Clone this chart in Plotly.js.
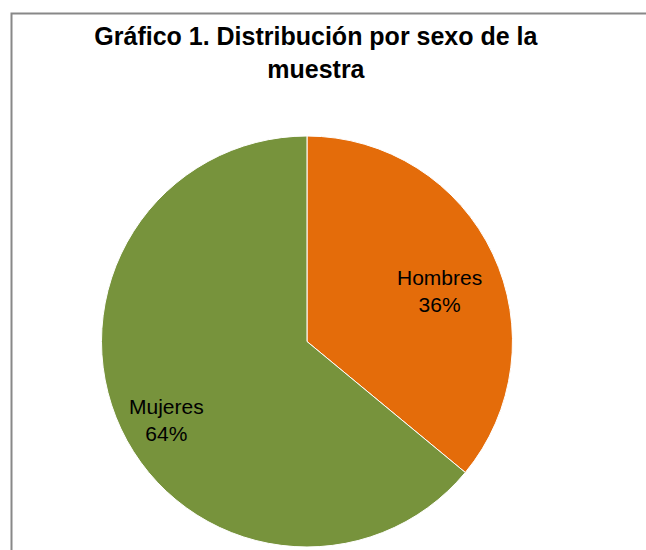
<!DOCTYPE html>
<html>
<head>
<meta charset="utf-8">
<script src="https://cdn.plot.ly/plotly-3.0.1.min.js"></script>
<style>html,body{margin:0;padding:0;background:#fff;}#chart{width:646px;height:550px;}</style>
</head>
<body>
<div id="chart"></div>
<script>
const categories = ["Hombres", "Mujeres"];
const values = [36, 64];
const sliceColors = ["#E46C0A", "#77933C"];
const titleText = "Gráfico 1. Distribución por sexo de la<br>muestra";

// label anchor positions (paper fractions), as Excel's "best fit" places them
const labelX = [0.6811, 0.2570];
const labelY = [0.4709, 0.2364];

const total = values.reduce((a, b) => a + b, 0);
const labelFont = { family: "Liberation Sans, Arial, sans-serif", size: 21, color: "#000000" };

const trace = {
  type: "pie",
  labels: categories,
  values: values,
  sort: false,
  direction: "clockwise",
  rotation: 0,
  marker: { colors: sliceColors, line: { color: "#ffffff", width: 1 } },
  textposition: "none",
  hoverinfo: "none",
  domain: { x: [0.1571, 0.7933], y: [0.0055, 0.7527] },
  showlegend: false
};

const annotations = categories.map((c, i) => ({
  xref: "paper", yref: "paper",
  x: labelX[i], y: labelY[i],
  xanchor: "center", yanchor: "middle",
  showarrow: false,
  align: "center",
  text: c + "<br>" + Math.round(values[i] / total * 100) + "%",
  font: labelFont
}));

const layout = {
  width: 646,
  height: 550,
  margin: { l: 0, r: 0, t: 0, b: 0 },
  paper_bgcolor: "#ffffff",
  showlegend: false,
  title: {
    text: "<b>" + titleText + "</b>",
    font: { family: "Liberation Sans, Arial, sans-serif", size: 25, color: "#000000" },
    x: 0.489,
    xanchor: "center",
    xref: "paper",
    y: 1 - 45 / 550,
    yanchor: "top",
    yref: "container"
  },
  annotations: annotations,
  shapes: [{
    type: "rect",
    xref: "paper", yref: "paper",
    x0: 11.5 / 646, x1: 1.1,
    y0: -0.1, y1: 1 - 13.5 / 550,
    line: { color: "#888888", width: 2 },
    fillcolor: "rgba(0,0,0,0)",
    layer: "above"
  }]
};

Plotly.newPlot("chart", [trace], layout, { displayModeBar: false, staticPlot: true });
</script>
</body>
</html>
